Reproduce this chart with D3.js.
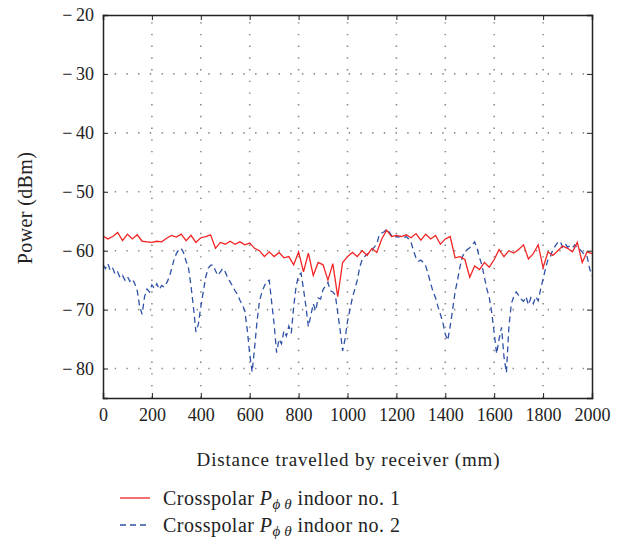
<!DOCTYPE html>
<html><head><meta charset="utf-8">
<script src="https://cdn.jsdelivr.net/npm/d3@7"></script>
<style>
html,body{margin:0;padding:0;background:#fff;}
svg{display:block;font-family:"Liberation Serif","DejaVu Serif",serif;}
</style></head>
<body><svg id="chart" width="626" height="539"></svg>
<script>
const xTicks = [0,200,400,600,800,1000,1200,1400,1600,1800,2000];
const yTicks = [-20,-30,-40,-50,-60,-70,-80];

const redDistance = d3.range(0, 2001, 20);
const redPower = [
-57.5,-58.0,-57.6,-56.9,-58.3,-57.2,-58.0,-57.3,-58.4,-58.5,
-58.6,-58.4,-58.5,-57.9,-57.4,-57.7,-57.2,-58.3,-57.4,-58.6,
-57.8,-57.6,-57.3,-59.6,-58.6,-58.9,-58.4,-58.9,-58.5,-59.0,
-58.7,-59.6,-60.0,-61.0,-60.2,-61.0,-60.3,-61.2,-61.0,-62.4,
-60.2,-63.6,-60.4,-64.2,-62.0,-62.4,-65.0,-62.2,-67.8,-62.0,
-61.0,-60.3,-61.0,-60.0,-60.8,-59.6,-60.3,-58.0,-56.5,-57.6,
-57.4,-57.6,-57.3,-57.8,-57.1,-58.2,-57.2,-58.0,-57.4,-58.9,
-58.0,-57.6,-61.2,-61.0,-61.5,-64.5,-62.6,-63.2,-62.0,-62.8,
-61.5,-59.8,-61.0,-60.0,-60.4,-59.8,-59.0,-61.4,-60.5,-59.0,
-62.9,-60.2,-60.8,-60.0,-59.2,-59.6,-60.2,-58.6,-62.0,-60.2,
-60.5];

const blueDistance = d3.range(0, 2001, 10);
const bluePower = [
-62.4,-63.0,-62.2,-63.4,-63.0,-64.0,-63.6,-64.6,-64.2,-65.0,
-64.4,-65.2,-64.8,-65.6,-66.8,-69.5,-70.8,-67.8,-66.5,-67.0,
-65.8,-66.4,-65.6,-66.6,-65.9,-66.2,-65.5,-64.6,-63.2,-61.6,
-60.5,-59.8,-59.6,-60.4,-61.8,-63.0,-66.0,-69.6,-73.8,-72.5,
-69.5,-67.0,-64.5,-63.0,-62.5,-62.4,-63.4,-64.2,-63.6,-63.0,
-63.6,-64.6,-65.3,-66.0,-66.8,-67.4,-68.4,-69.2,-70.2,-73.4,
-77.5,-80.6,-76.5,-72.0,-68.6,-67.0,-66.0,-65.2,-65.0,-68.8,
-72.5,-77.3,-75.0,-75.8,-73.6,-74.5,-72.8,-74.0,-69.5,-66.0,
-64.2,-63.8,-66.5,-69.5,-72.9,-71.0,-69.0,-70.2,-68.0,-68.2,
-66.6,-66.0,-65.4,-66.8,-67.0,-67.5,-70.5,-73.5,-77.0,-75.0,
-72.0,-70.0,-68.0,-66.5,-65.0,-62.8,-61.5,-61.0,-60.6,-60.3,
-59.8,-59.4,-58.8,-57.3,-57.0,-56.8,-56.3,-56.8,-57.4,-57.8,
-57.6,-57.7,-57.5,-57.8,-57.6,-58.0,-58.6,-60.0,-61.2,-61.8,
-61.6,-62.0,-62.6,-64.0,-65.5,-67.0,-68.0,-69.5,-70.8,-72.2,
-74.2,-75.2,-72.8,-70.0,-67.0,-65.0,-62.7,-61.0,-60.2,-59.8,
-59.5,-59.0,-58.5,-59.6,-61.2,-62.5,-64.5,-66.5,-68.0,-70.5,
-74.0,-77.5,-75.0,-73.0,-78.0,-80.7,-73.0,-69.0,-67.8,-67.0,
-67.6,-68.2,-68.6,-67.8,-69.2,-68.0,-69.0,-67.8,-68.5,-66.5,
-64.8,-63.0,-61.5,-61.0,-59.8,-59.2,-58.6,-58.4,-59.4,-58.8,
-59.4,-59.2,-59.5,-59.0,-59.6,-59.8,-60.2,-60.8,-61.0,-63.0,
-64.3];

const seriesNames = ["Crosspolar", "indoor no. 1", "indoor no. 2"];

const svg = d3.select("#chart");
const L = 103, R = 592, T = 15, B = 398;
const x = d3.scaleLinear().domain([0, 2000]).range([L, R]);
const y = d3.scaleLinear().domain([-85, -20]).range([B, T]);

function fitWidth(sel, target) {
  const n = sel.text().length;
  const w = sel.node().getComputedTextLength();
  sel.attr("letter-spacing", ((target - w) / Math.max(1, n - 1)).toFixed(3));
}

// grid
const grid = svg.append("g").attr("stroke", "#8a8a8a").attr("stroke-width", 1.6)
  .attr("stroke-dasharray", "1.4,10.3").attr("fill", "none");
xTicks.filter(d => d > 0 && d < 2000).forEach(d => {
  grid.append("line").attr("x1", x(d)).attr("x2", x(d)).attr("y1", B).attr("y2", T);
});
yTicks.filter(d => d > -85 && d < -20).forEach(d => {
  grid.append("line").attr("x1", L).attr("x2", R).attr("y1", y(d)).attr("y2", y(d));
});

// lines
const redLine = d3.line().x((d, i) => x(redDistance[i])).y(d => y(d));
const blueLine = d3.line().x((d, i) => x(blueDistance[i])).y(d => y(d));
svg.append("path").attr("d", blueLine(bluePower)).attr("fill", "none")
  .attr("stroke", "#2f52a8").attr("stroke-width", 1.3).attr("stroke-dasharray", "6,4");
svg.append("path").attr("d", redLine(redPower)).attr("fill", "none")
  .attr("stroke", "#f22424").attr("stroke-width", 1.3);

// axes (inward ticks)
const fmtX = d => String(d);
const fmtY = d => "\u2212\u2009" + Math.abs(d);
const axB = svg.append("g").attr("transform", `translate(0,${B})`)
  .call(d3.axisBottom(x).tickValues(xTicks).tickSize(-5).tickPadding(10).tickFormat(fmtX));
const axT = svg.append("g").attr("transform", `translate(0,${T})`)
  .call(d3.axisTop(x).tickValues(xTicks).tickSize(-5).tickFormat(""));
const axL = svg.append("g").attr("transform", `translate(${L},0)`)
  .call(d3.axisLeft(y).tickValues(yTicks).tickSize(-5).tickPadding(9).tickFormat(fmtY));
const axR = svg.append("g").attr("transform", `translate(${R},0)`)
  .call(d3.axisRight(y).tickValues(yTicks).tickSize(-5).tickFormat(""));
[axB, axT, axL, axR].forEach(a => {
  a.select(".domain").attr("stroke", "#222").attr("stroke-width", 1.5);
  a.selectAll(".tick line").attr("stroke", "#222").attr("stroke-width", 1);
  a.selectAll("text").attr("font-family", "Liberation Serif, serif").attr("font-size", 18).attr("fill", "#222");
});
axB.selectAll("text").attr("dy", "0.72em");

// axis titles
const xt = svg.append("text").attr("x", (L + R) / 2 + 1).attr("y", 466).attr("text-anchor", "middle")
  .attr("font-size", 19).attr("fill", "#222").text("Distance travelled by receiver (mm)");
fitWidth(xt, 303);
const yt = svg.append("text").attr("transform", `translate(32,208) rotate(-90)`)
  .attr("text-anchor", "middle").attr("font-size", 20).attr("fill", "#222").text("Power (dBm)");
fitWidth(yt, 112);

// legend
const leg = [
  {name: seriesNames[1], color: "#f22424", dash: null, yy: 498},
  {name: seriesNames[2], color: "#2f52a8", dash: "6,4", yy: 525}
];
leg.forEach(l => {
  svg.append("line").attr("x1", 120).attr("x2", 150).attr("y1", l.yy).attr("y2", l.yy)
    .attr("stroke", l.color).attr("stroke-width", 1.3).attr("stroke-dasharray", l.dash);
  const t = svg.append("text").attr("x", 163).attr("y", l.yy + 7).attr("font-size", 20).attr("fill", "#222");
  t.append("tspan").text(seriesNames[0] + " ");
  t.append("tspan").attr("font-style", "italic").text("P");
  t.append("tspan").attr("font-style", "italic").attr("font-size", 15).attr("dy", 4).text("\u03D5\u2009\u03B8");
  t.append("tspan").attr("dy", -4).text(" " + l.name);
  fitWidth(t, 237);
});
</script></body></html>
